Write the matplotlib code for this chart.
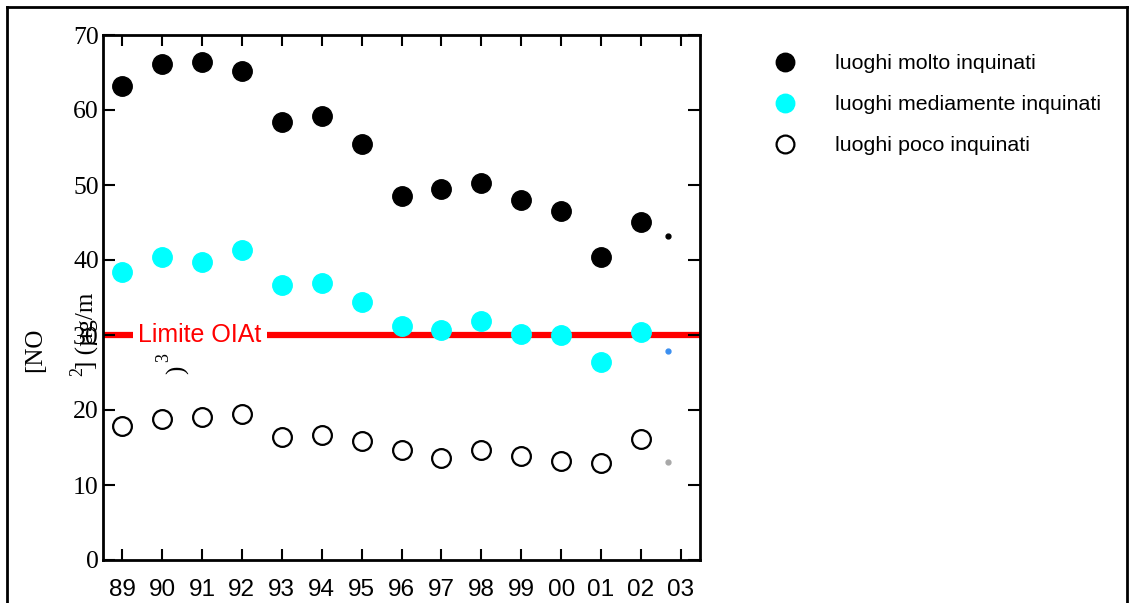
import matplotlib
matplotlib.use("Agg")
from matplotlib import pyplot as plt
from matplotlib.lines import Line2D

# data
years = ["89", "90", "91", "92", "93", "94", "95", "96", "97", "98", "99", "00", "01", "02", "03"]
molto = [63.2, 66.1, 66.4, 65.2, 58.4, 59.2, 55.5, 48.5, 49.5, 50.3, 48.0, 46.5, 40.4, 45.1]
medio = [38.4, 40.4, 39.7, 41.3, 36.7, 36.9, 34.4, 31.2, 30.7, 31.9, 30.1, 30.0, 26.4, 30.4]
poco = [17.9, 18.8, 19.1, 19.5, 16.4, 16.7, 15.9, 14.7, 13.6, 14.7, 13.9, 13.2, 12.9, 16.1]
# the three small dots drawn next to 03
last_vals = [43.2, 27.9, 13.1]
last_cols = ["black", "#3b8ff0", "#a8a8a8"]
limite = 30

W, H = 1133, 603
fig = plt.figure(figsize=(W / 100, H / 100), dpi=100)
ax = fig.add_axes([103 / W, 1 - 560 / H, 597 / W, 525 / H])

x = list(range(len(molto)))
ax.plot(x, molto, "o", color="black", ms=14, label="luoghi molto inquinati")
ax.plot(x, medio, "o", color="#00ffff", ms=14, label="luoghi mediamente inquinati")
ax.plot(x, poco, "o", mfc="white", mec="black", mew=1.6, ms=13.5, label="luoghi poco inquinati")

x_last = len(years) - 1 - 0.33
for v, c in zip(last_vals, last_cols):
    ax.plot(x_last, v, "o", color=c, ms=3.5)

ax.axhline(limite, color="red", lw=4.5, zorder=1)
ax.text(1.95, limite, "Limite OIAt", color="red", fontsize=18, family="Liberation Sans",
        ha="center", va="center", bbox=dict(facecolor="white", edgecolor="none", pad=4), zorder=2)

ax.set_xlim(-0.48, len(years) - 1 + 0.48)
ax.set_ylim(0, 70)
ax.set_xticks(range(len(years)))
ax.set_xticklabels(years, family="Liberation Sans", fontsize=17.5)
ax.set_yticks(range(0, 71, 10))
ax.set_yticklabels([str(v) for v in range(0, 71, 10)], family="Liberation Serif", fontsize=18.5)
ax.tick_params(axis="x", direction="in", top=True, length=8, width=1.5, pad=14)
ax.tick_params(axis="y", direction="in", right=True, length=8.5, width=1.5, pad=3)
for s in ax.spines.values():
    s.set_linewidth(2)

# garbled y label, pieces placed as in the original
def px(xp, yp):
    return xp / W, 1 - yp / H

serif = "Liberation Serif"
fig.text(*px(35, 350), "[NO", rotation=90, family=serif, fontsize=18, ha="center", va="center")
fig.text(*px(78, 372), "2", rotation=90, family=serif, fontsize=13, ha="center", va="center")
fig.text(*px(87, 331), "] (\u00b5g/m", rotation=90, family=serif, fontsize=18, ha="center", va="center")
fig.text(*px(178, 370), ")", rotation=90, family=serif, fontsize=18, ha="center", va="center")
fig.text(*px(164, 357), "3", rotation=90, family=serif, fontsize=13, ha="center", va="center")

leg = fig.legend(loc="upper left", bbox_to_anchor=(755 / W, 1 - 35 / H), frameon=False,
                 prop={"family": "Liberation Sans", "size": 15.4}, handlelength=1.0,
                 handletextpad=1.86, labelspacing=1.03, markerscale=0.95)

# outer frame
fx0, fx1, fy1 = 7 / W, 1127 / W, 1 - 7 / H
fig.add_artist(Line2D([fx0, fx0], [0, fy1], color="black", lw=2, transform=fig.transFigure))
fig.add_artist(Line2D([fx1, fx1], [0, fy1], color="black", lw=2, transform=fig.transFigure))
fig.add_artist(Line2D([fx0, fx1], [fy1, fy1], color="black", lw=2, transform=fig.transFigure))

fig.savefig("out.png", dpi=100)
